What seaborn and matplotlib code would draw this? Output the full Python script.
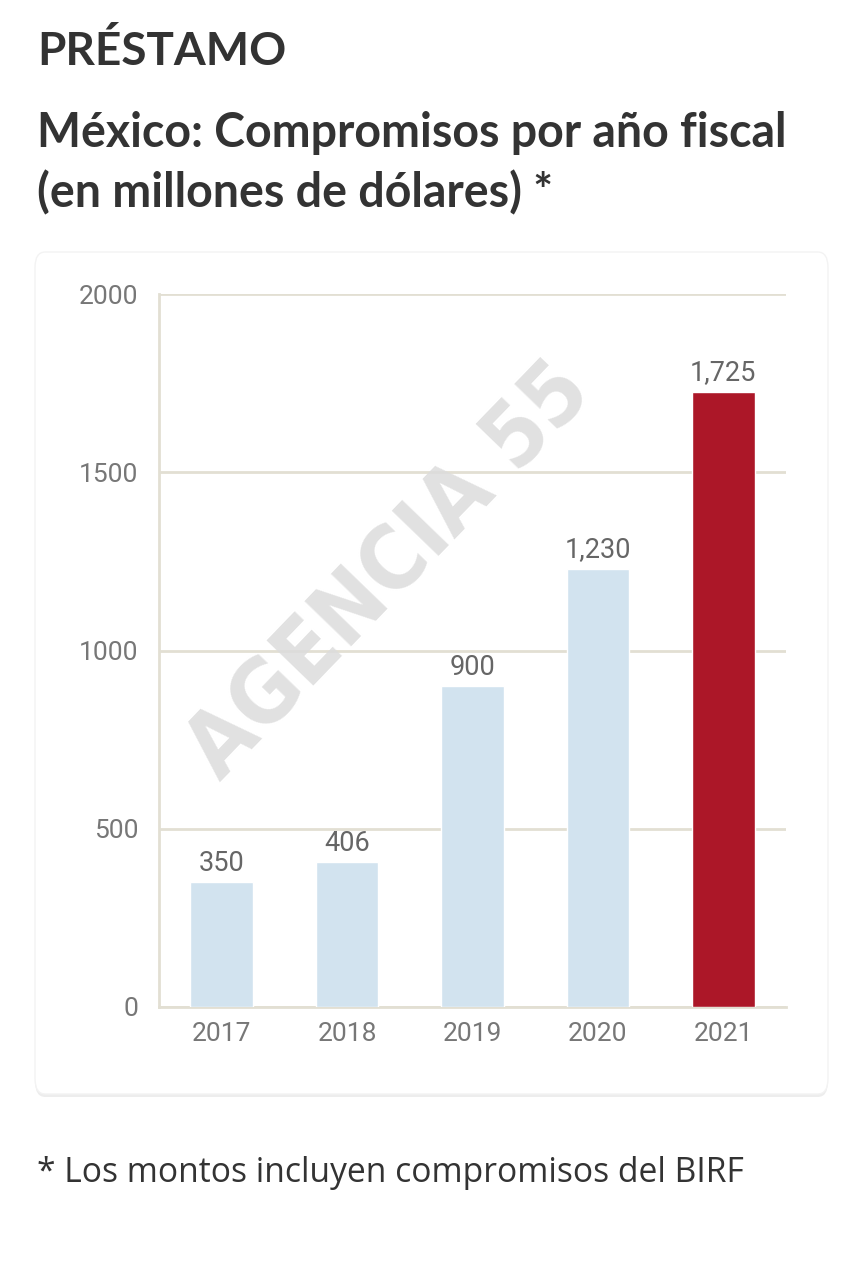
import matplotlib
matplotlib.use("Agg")
import matplotlib.pyplot as plt
from matplotlib.patches import FancyBboxPatch
import seaborn as sns
import pandas as pd

years = ["2017", "2018", "2019", "2020", "2021"]
values = [350, 406, 900, 1230, 1725]
bar_colors = ["#d2e3ef", "#d2e3ef", "#d2e3ef", "#d2e3ef", "#ac1728"]
y_ticks = [0, 500, 1000, 1500, 2000]

title_text = "PRÉSTAMO"
subtitle_lines = ["México: Compromisos por año fiscal", "(en millones de dólares) *"]
footnote_text = "* Los montos incluyen compromisos del BIRF"
watermark_text = "AGENCIA 55"

sns.set_theme(style="white")
plt.rcParams["font.family"] = ["Roboto", "DejaVu Sans"]

W, H = 860, 1280
fig = plt.figure(figsize=(W / 100, H / 100), dpi=100)
fig.patch.set_facecolor("white")

def fx(px):
    return px / W

def fy(py):
    return 1 - py / H

# card with subtle shadow (drawn below the axes)
shadow = FancyBboxPatch((fx(35), fy(1097)), fx(828) - fx(35), fy(254) - fy(1097),
                        boxstyle="round,pad=0,rounding_size=0.012",
                        transform=fig.transFigure, facecolor="#ededed",
                        edgecolor="none", zorder=-3)
card = FancyBboxPatch((fx(35), fy(1094)), fx(828) - fx(35), fy(252) - fy(1094),
                      boxstyle="round,pad=0,rounding_size=0.012",
                      transform=fig.transFigure, facecolor="white",
                      edgecolor="#f3f3f3", linewidth=1, zorder=-2)
fig.patches.extend([shadow, card])

ax = fig.add_axes([fx(159), fy(1007), fx(786) - fx(159), fy(294) - fy(1007)])
ax.set_facecolor("none")
ax.set_zorder(1)

df = pd.DataFrame({"year": years, "value": values})
sns.barplot(data=df, x="year", y="value", hue="year", palette=bar_colors,
            width=0.5, legend=False, ax=ax, saturation=1, zorder=3)

ax.set_ylim(0, 2000)
ax.set_yticks(y_ticks)
ax.set_yticklabels([str(t) for t in y_ticks])
ax.set_xlim(-0.5, len(years) - 0.5)
ax.set_xlabel("")
ax.set_ylabel("")

grid_color = "#e2dfd3"
ax.yaxis.grid(True, color=grid_color, linewidth=2, zorder=0)
ax.xaxis.grid(False)
for s in ["top", "right"]:
    ax.spines[s].set_visible(False)
for s in ["left", "bottom"]:
    ax.spines[s].set_color(grid_color)
    ax.spines[s].set_linewidth(2)
ax.set_axisbelow(True)

ax.tick_params(axis="y", length=0, pad=15, labelsize=19, labelcolor="#777777")
ax.tick_params(axis="x", length=0, pad=11, labelsize=19, labelcolor="#777777")

for container in ax.containers:
    ax.bar_label(container, labels=[f"{v:,.0f}" for v in container.datavalues],
                 padding=4, fontsize=19.5, color="#666666")

# watermark
fig.text(fx(390), fy(572), watermark_text, rotation=46, ha="center", va="center",
         fontsize=64, fontweight="bold", fontstretch="condensed", color="#dcdcdc",
         alpha=0.85, family=["DejaVu Sans"], zorder=10)

# titles
fig.text(fx(37), fy(65), title_text, ha="left", va="baseline",
         fontsize=33, fontweight="bold", color="#333333", family=["Lato", "DejaVu Sans"])
fig.text(fx(37), fy(147), subtitle_lines[0], ha="left", va="baseline",
         fontsize=33.5, fontweight="bold", color="#333333", family=["Lato", "DejaVu Sans"])
fig.text(fx(37), fy(207), subtitle_lines[1], ha="left", va="baseline",
         fontsize=33.5, fontweight="bold", color="#333333", family=["Lato", "DejaVu Sans"])

fig.text(fx(37), fy(1182), footnote_text, ha="left", va="baseline",
         fontsize=24.2, color="#333333", family=["Open Sans", "DejaVu Sans"])

fig.savefig("out.png", dpi=100, facecolor="white")
